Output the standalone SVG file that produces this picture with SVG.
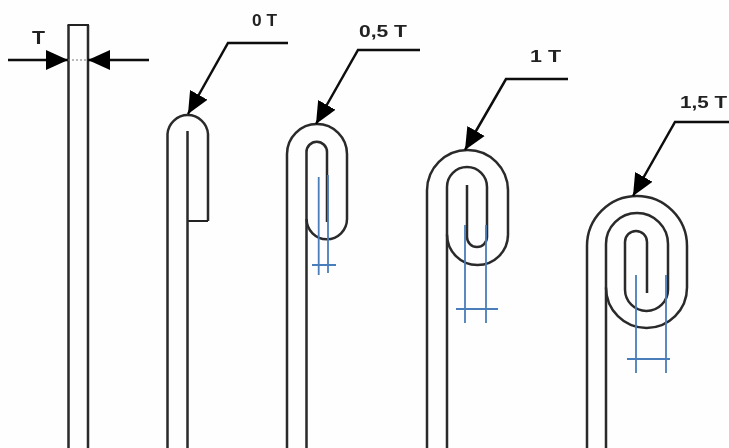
<svg xmlns="http://www.w3.org/2000/svg" width="729" height="448" viewBox="0 0 729 448">
<style>
.s{fill:none;stroke:#222;stroke-width:2}
.v{fill:none;stroke:#2a2a2a;stroke-width:2.5}
.l{fill:none;stroke:#111;stroke-width:2.5}
.b{fill:none;stroke:#4a7ebb;stroke-width:1.8}
.d{fill:none;stroke:#777;stroke-width:1;stroke-dasharray:2 2}
text{font-family:"Liberation Sans",Arial,sans-serif;font-weight:bold;font-size:17px;fill:#222}
</style>
<defs>
<filter id="soft" x="-5%" y="-5%" width="110%" height="110%"><feGaussianBlur stdDeviation="0.5"/></filter>
<marker id="ah" markerUnits="userSpaceOnUse" markerWidth="24" markerHeight="24" refX="22" refY="12" orient="auto"><path d="M0 2L22 12L0 22Z" fill="#000"/></marker>
</defs>
<rect width="729" height="448" fill="#fefefe"/>
<g filter="url(#soft)">
<g id="strip">
<path class="v" d="M68.500 448V25"/><path class="v" d="M88 448V25"/><path class="s" d="M67.500 25H89"/>
<path class="d" d="M68 60H88"/>
<text x="32" y="44" textLength="13" lengthAdjust="spacingAndGlyphs" style="font-size:19px">T</text>
</g>
<g id="bend-0t">
<path class="v" d="M167.500 448V134A20.300 20.300 0 0 1 208 134V221"/><path class="s" d="M208 221H188"/><path class="v" d="M187.500 448V131"/>
<text x="252" y="26" textLength="25" lengthAdjust="spacingAndGlyphs">0 T</text>
</g>
<g id="bend-05t">
<path class="v" d="M287 448V154A30 30 0 0 1 347 154V219A20.200 20.200 0 0 1 306.600 219"/><path class="v" d="M306.500 448V152A10.200 10.200 0 0 1 327 152V222"/>
<text x="359" y="37" textLength="48" lengthAdjust="spacingAndGlyphs">0,5 T</text>
</g>
<g id="bend-1t">
<path class="v" d="M427 448V190.500A40.500 40.500 0 0 1 508 190.500V234.500A30.500 30.500 0 0 1 447 234.500"/><path class="v" d="M447 448V187A20 20 0 0 1 487 187V237A10 10 0 0 1 467 237V185"/>
<text x="530" y="62" textLength="31" lengthAdjust="spacingAndGlyphs">1 T</text>
</g>
<g id="bend-15t">
<path class="v" d="M587 448V246A50 50 0 0 1 687 246V287.500A40.500 40.500 0 0 1 606 287.500"/><path class="v" d="M606 448V244A31 31 0 0 1 668 244V289.500A21.500 21.500 0 0 1 625 289.500V242A11 11 0 0 1 647 242V293"/>
<text x="680" y="108" textLength="47" lengthAdjust="spacingAndGlyphs">1,5 T</text>
</g>
<g id="connectors">
<path class="l" d="M8 60H68" marker-end="url(#ah)"/>
<path class="l" d="M149 60H88" marker-end="url(#ah)"/>
<path class="l" d="M288 43H228L188 114" marker-end="url(#ah)"/>
<path class="l" d="M420 50H358L316 124" marker-end="url(#ah)"/>
<path class="l" d="M568 79H506L465 150" marker-end="url(#ah)"/>
<path class="l" d="M729 122H675L633 196" marker-end="url(#ah)"/>
</g>
</g>
<g id="dimensions">
<path class="b" d="M318.700 177V275M328 175V273M312 265H336"/>
<path class="b" d="M465 225V323M486 225V323M456 309H498"/>
<path class="b" d="M636 275V373M666 275V373M627 359H670"/>
</g>
</svg>
